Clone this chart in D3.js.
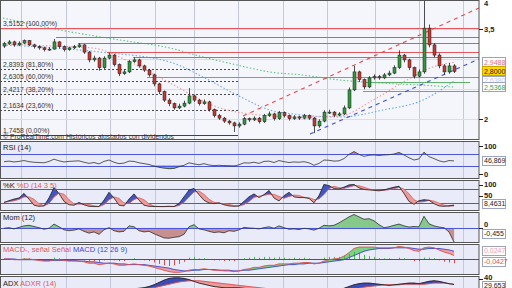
<!DOCTYPE html>
<html><head><meta charset="utf-8">
<script src="https://cdn.jsdelivr.net/npm/d3@7"></script>
<style>html,body{margin:0;padding:0;background:#fff;overflow:hidden}svg{display:block;font-family:"Liberation Sans",Arial,sans-serif}</style>
</head><body><svg id="c" width="512" height="288"></svg>
<script>
// ---------- DATA ----------
const open=[3.22,3.26,3.29,3.24,3.27,3.31,3.24,3.21,3.19,3.16,3.17,3.29,3.21,3.16,3.19,3.21,3.24,3.12,2.99,3.02,2.86,3.02,3.07,2.91,2.76,2.79,2.96,2.99,2.89,2.82,2.74,2.59,2.46,2.32,2.26,2.19,2.22,2.27,2.39,2.32,2.26,2.29,2.16,2.06,2.02,1.97,1.94,1.89,1.92,2.01,1.99,2.02,1.96,2.06,2.09,2.01,2.11,2.06,2.01,2.04,2.02,2.06,2.02,1.89,1.97,2.12,2.12,2.07,2.09,2.19,2.49,2.79,2.66,2.54,2.69,2.71,2.69,2.74,2.77,2.86,3.07,2.99,2.86,2.72,2.79,3.52,3.24,3.07,2.89,2.79,2.89];
const close=[3.26,3.29,3.24,3.27,3.31,3.24,3.21,3.19,3.16,3.17,3.29,3.21,3.16,3.19,3.21,3.24,3.12,2.99,3.02,2.86,3.02,3.07,2.91,2.76,2.79,2.96,2.99,2.89,2.82,2.74,2.59,2.46,2.32,2.26,2.19,2.22,2.27,2.39,2.32,2.26,2.29,2.16,2.06,2.02,1.97,1.94,1.89,1.92,2.01,1.99,2.02,1.96,2.06,2.09,2.01,2.11,2.06,2.01,2.04,2.02,2.06,2.02,1.89,1.97,2.12,2.12,2.07,2.09,2.19,2.49,2.79,2.66,2.54,2.69,2.71,2.69,2.74,2.77,2.86,3.07,2.99,2.86,2.72,2.79,3.52,3.24,3.07,2.89,2.79,2.89,2.80];
const high=[3.29,3.32,3.31,3.30,3.33,3.32,3.26,3.23,3.21,3.20,3.34,3.30,3.23,3.21,3.24,3.27,3.25,3.14,3.06,3.04,3.05,3.11,3.09,2.93,2.83,2.99,3.03,3.01,2.91,2.84,2.76,2.61,2.48,2.35,2.28,2.26,2.31,2.52,2.41,2.34,2.33,2.31,2.18,2.09,2.04,1.99,1.96,1.95,2.04,2.03,2.05,2.04,2.09,2.13,2.11,2.14,2.13,2.08,2.07,2.06,2.09,2.08,2.04,2.00,2.15,2.16,2.14,2.12,2.23,2.53,2.89,2.81,2.68,2.72,2.75,2.74,2.77,2.81,2.90,3.15,3.09,3.01,2.88,2.83,3.99,3.58,3.27,3.10,2.92,2.94,2.92];
const low=[3.19,3.24,3.21,3.22,3.25,3.22,3.18,3.16,3.13,3.14,3.16,3.18,3.13,3.14,3.17,3.19,3.09,2.95,2.96,2.81,2.84,3.00,2.88,2.72,2.74,2.77,2.94,2.86,2.79,2.71,2.55,2.42,2.29,2.22,2.16,2.17,2.20,2.25,2.29,2.23,2.24,2.13,2.03,1.99,1.94,1.91,1.79,1.86,1.90,1.96,1.97,1.93,1.94,2.04,1.98,1.99,2.03,1.98,1.99,1.99,2.00,1.99,1.77,1.86,1.95,2.09,2.04,2.05,2.07,2.17,2.47,2.62,2.50,2.52,2.66,2.66,2.67,2.72,2.75,2.84,2.95,2.82,2.68,2.70,2.76,3.20,3.03,2.85,2.74,2.76,2.77];

const fibLevels=[3.5152,2.8393,2.6305,2.4217,2.1634,1.7458];
const fibLabels=["3,5152 (100,00%)","2,8393 (81,80%)","2,6305 (60,00%)","2,4217 (38,20%)","2,1634 (23,60%)","1,7458 (0,00%)"];
const resLevels=[3.5152,3.366,3.266,3.116,3.043];
const resStart=[-1,10.4,14.8,20.6,25.8];
const supLevels=[2.705,2.62,2.48];
const supStart=[28.6,72,71.8];
const supEnd=[95,93.2,95];
const maGreen=[[-0.2,3.688],[11.2,3.488],[23.2,3.321],[33.2,3.188],[39.8,3.038],[46.6,2.905],[53.2,2.788],[59.8,2.738],[67.2,2.655],[75.2,2.605],[83.2,2.571],[90,2.538]];
const maBlue=[[-0.2,3.238],[7.2,3.205],[19.2,3.121],[33.2,2.955],[39.8,2.705],[46.6,2.405],[53.2,2.155],[59.8,2.071],[67.2,2.038],[75.8,2.155],[83.8,2.321],[90,2.638]];
const maPink=[[0,3.255],[9.2,3.221],[17.8,3.188],[25.2,2.955],[33.2,2.605],[42.6,2.205],[51.2,2.071],[59.2,2.038],[67.2,2.055],[73.8,2.321],[80.6,2.655],[85.2,2.855],[90,2.9488]];
const trendRed=[[47.8,2.055],[95,3.855]];
const trendBlue=[[61.2,1.755],[95,3.005]];
const dateGrid=[3.4,12.4,21.2,30.2,38,46.8,55.8,64.6,74.2,83,91.8];
const mainTicks=[4,3.5,2];
const mainTickLabels=["4","3,5","2"];
const mainTagPrices=[2.9488,2.8,2.638,2.5368];
const mainTagLabels=["2,9488","2,8000","2,6380","2,5368"];

const rsi=[44,46,43,45,48,44,42,41,40,45,53,47,43,45,46,47,42,38,41,36,45,50,42,37,39,46,45,40,37,34,28,24,21,19,20,26,31,40,36,33,37,32,30,31,30,29,28,33,40,39,42,38,45,46,41,48,44,41,43,42,44,40,31,38,50,49,46,47,55,70,80,70,63,67,68,66,68,69,71,77,68,58,50,54,78,62,55,47,43,48,46.869];
const stoK=[20,28,35,40,60,35,8,3,5,40,86,60,25,10,8,20,10,3,2,2,30,65,40,8,5,35,58,30,8,3,2,2,2,3,2,15,45,75,82,55,30,18,15,18,10,5,3,5,25,45,58,42,55,73,40,27,50,65,45,42,42,38,19,50,100,95,82,80,88,98,100,85,78,76,74,72,76,82,88,92,60,25,12,28,32,30,15,5,3,5,8.4631];
const stoD=[22,24,28,34,45,45,34,15,5,16,44,62,57,32,14,13,13,11,5,2,11,32,45,38,18,16,33,41,32,14,4,2,2,2,2,7,21,45,67,71,56,34,21,17,14,11,6,4,11,25,43,48,52,57,56,47,39,47,53,51,43,41,33,36,56,82,92,86,83,89,95,94,88,80,76,74,74,77,82,87,80,59,32,22,24,30,26,17,8,4,5];
const mom=[0,0.02,-0.02,0.03,0.08,0.1,0.06,0.02,-0.03,0,0.14,0.05,-0.05,-0.08,-0.06,-0.02,-0.1,-0.16,-0.12,-0.2,-0.05,0.02,-0.08,-0.12,-0.1,0.08,0.05,-0.08,-0.12,-0.1,-0.18,-0.25,-0.32,-0.33,-0.3,-0.28,-0.2,0.05,0.12,-0.02,-0.05,-0.1,-0.14,-0.12,-0.15,-0.08,-0.1,-0.05,0.03,0.01,0,-0.02,0.02,0.05,0,0.08,0.02,-0.03,-0.02,-0.04,0,-0.02,-0.06,0,0.1,0.08,0.1,0.18,0.28,0.38,0.46,0.38,0.3,0.32,0.25,0.12,0.02,0.05,0.1,0.14,0.08,0.04,0.06,0.05,0.4,0.15,0.08,0.04,0.02,-0.12,-0.455];
const macd=[0,0,-0.01,-0.01,0,0,-0.01,-0.02,-0.03,-0.03,-0.01,-0.01,-0.02,-0.03,-0.03,-0.03,-0.04,-0.06,-0.06,-0.08,-0.07,-0.06,-0.07,-0.09,-0.09,-0.08,-0.07,-0.08,-0.09,-0.1,-0.12,-0.14,-0.16,-0.18,-0.19,-0.19,-0.18,-0.16,-0.15,-0.15,-0.14,-0.15,-0.16,-0.16,-0.17,-0.17,-0.18,-0.17,-0.15,-0.14,-0.12,-0.12,-0.1,-0.09,-0.09,-0.07,-0.07,-0.07,-0.06,-0.06,-0.05,-0.05,-0.07,-0.06,-0.03,-0.01,0,0.01,0.04,0.09,0.15,0.17,0.17,0.17,0.17,0.16,0.16,0.16,0.16,0.18,0.17,0.15,0.12,0.11,0.16,0.17,0.16,0.13,0.1,0.08,0.05];
const signal=[0,0,0,-0.01,-0.01,-0.01,-0.01,-0.01,-0.02,-0.02,-0.02,-0.02,-0.02,-0.02,-0.02,-0.03,-0.03,-0.04,-0.04,-0.05,-0.06,-0.06,-0.06,-0.07,-0.07,-0.08,-0.08,-0.08,-0.08,-0.09,-0.1,-0.11,-0.12,-0.13,-0.15,-0.16,-0.17,-0.17,-0.16,-0.16,-0.15,-0.15,-0.15,-0.16,-0.16,-0.16,-0.17,-0.17,-0.16,-0.16,-0.15,-0.14,-0.13,-0.12,-0.11,-0.1,-0.09,-0.08,-0.08,-0.07,-0.07,-0.06,-0.06,-0.06,-0.05,-0.04,-0.03,-0.02,-0.01,0.02,0.05,0.08,0.11,0.13,0.14,0.15,0.15,0.15,0.16,0.16,0.16,0.16,0.15,0.14,0.14,0.15,0.15,0.15,0.14,0.13,0.11];
const hist=[0,0,-0.01,0,0.01,0.01,0,-0.01,-0.01,0,0.02,0.01,0,-0.01,-0.01,0,-0.02,-0.03,-0.03,-0.04,-0.02,0,-0.02,-0.03,-0.03,0,0.01,-0.01,-0.02,-0.03,-0.05,-0.07,-0.09,-0.1,-0.09,-0.07,-0.04,0.02,0.03,0.01,0.01,0,-0.02,-0.02,-0.03,-0.03,-0.03,-0.01,0.01,0.02,0.03,0.02,0.03,0.03,0.02,0.03,0.02,0.01,0.02,0.01,0.02,0.01,-0.01,0,0.02,0.03,0.03,0.03,0.05,0.07,0.1,0.09,0.06,0.04,0.03,0.01,0.01,0.01,0,0.02,0.01,-0.01,-0.03,-0.03,0.02,0.02,0.01,-0.02,-0.04,-0.05,-0.06];
const adx=[20,19,18,17,17,18,18,17,16,16,17,17,16,16,17,18,19,20,21,21,21,22,22,22,23,23,23,24,25,27,30,34,38,41,42,42,41,39,36,33,31,29,27,26,25,25,25,25,24,23,22,21,20,19,18,18,17,17,16,16,16,16,17,17,17,18,19,21,24,27,30,32,33,33,32,31,30,29,30,31,32,33,33,32,34,36,37,36,34,32,30.5];
const adxr=[21,21,20,20,19,19,19,18,18,18,18,17,17,17,17,17,18,18,19,19,20,20,21,21,22,22,22,23,23,24,25,27,29,31,33,35,36,37,37,37,36,35,34,33,32,31,30,29,28,27,26,25,24,23,22,21,20,19,19,18,18,18,17,17,17,17,18,18,19,20,22,24,26,27,28,29,30,30,30,30,31,31,31,31,31,32,33,33,33,32,31];

// ---------- LAYOUT ----------
const svg=d3.select("#c");
const W=479;
const x=d3.scaleLinear().domain([0,90]).range([4,454]);
const panels={
  main:[0,139], rsi:[141,178], sto:[180,210], mom:[212,242], macd:[244,274], adx:[276,295]
};
const yMain=d3.scaleLinear().domain([1.672,3.988]).range([139,0]);
const yRsi=d3.scaleLinear().domain([0,100]).range([174,146]);
const ySto=d3.scaleLinear().domain([0,100]).range([207,184.5]);
const yMom=d3.scaleLinear().domain([-0.5,0.5]).range([243.3,213.3]);
const yMacd=d3.scaleLinear().domain([-0.2,0.2]).range([273,245]);
const yAdx=d3.scaleLinear().domain([24.5,43.5]).range([288,277]);

const defs=svg.append("defs");
const G={};
Object.entries(panels).forEach(([k,[t,b]])=>{
  defs.append("clipPath").attr("id","cp_"+k).append("rect").attr("x",0.5).attr("y",t).attr("width",W).attr("height",b-t);
  svg.append("rect").attr("x",0.5).attr("y",t+0.5).attr("width",W-0.5).attr("height",b-t)
    .attr("fill",k==="main"?"#f5f6fc":"#e9ebf8");
  G[k]=svg.append("g").attr("clip-path",`url(#cp_${k})`);
  G[k].selectAll("line.vg").data(dateGrid).join("line")
    .attr("x1",d=>Math.round(x(d))+0.5).attr("x2",d=>Math.round(x(d))+0.5)
    .attr("y1",t).attr("y2",b).attr("stroke","#c3c8de").attr("stroke-width",1);
});

// ---------- helpers ----------
function fillBetween(g,a,b,y,pos,neg,op){
  const bv=i=>typeof b==="number"?b:b[i];
  const polys=[];
  for(let i=0;i<a.length-1;i++){
    const d0=a[i]-bv(i),d1=a[i+1]-bv(i+1);
    if(d0*d1<0){
      const t=d0/(d0-d1),xm=i+t,ym=a[i]+t*(a[i+1]-a[i]);
      polys.push({c:d0>0?pos:neg,p:[[i,a[i]],[xm,ym],[i,bv(i)]]});
      polys.push({c:d1>0?pos:neg,p:[[xm,ym],[i+1,a[i+1]],[i+1,bv(i+1)]]});
    }else{
      const s=d0+d1;
      polys.push({c:s>=0?pos:neg,p:[[i,a[i]],[i+1,a[i+1]],[i+1,bv(i+1)],[i,bv(i)]]});
    }
  }
  g.selectAll(null).data(polys.filter(p=>p.c)).join("path")
    .attr("d",d=>"M"+d.p.map(q=>x(q[0])+","+y(q[1])).join("L")+"Z")
    .attr("fill",d=>d.c).attr("stroke",d=>d.c).attr("stroke-width",0.3).attr("opacity",op||1);
}
function line(g,arr,y,color,w,dash){
  g.append("path").datum(arr).attr("fill","none").attr("stroke",color).attr("stroke-width",w||0.8)
   .attr("stroke-dasharray",dash||null)
   .attr("d",d3.line().x((d,i)=>x(i)).y(d=>y(d)));
}
function pline(g,pts,y,color,w,dash){
  g.append("path").datum(pts).attr("fill","none").attr("stroke",color).attr("stroke-width",w||1)
   .attr("stroke-dasharray",dash||null)
   .attr("d",d3.line().curve(d3.curveMonotoneX).x(d=>x(d[0])).y(d=>y(d[1])));
}
function hline(g,v,y,color,x0,x1,w,dash){
  g.append("line").attr("x1",x0).attr("x2",x1).attr("y1",Math.round(y(v))+0.5).attr("y2",Math.round(y(v))+0.5)
   .attr("stroke",color).attr("stroke-width",w||1).attr("stroke-dasharray",dash||null);
}

// ---------- MAIN ----------
const gm=G.main;
[4,3.5,3,2.5,2].forEach(v=>hline(gm,v,yMain,"#d9dcea",0,W,1));
fibLevels.forEach((v,i)=>{
  hline(gm,v,yMain,i===5?"#444":"#333",0,x(46.8),i===5?1:0.9,i===5?null:"2,2");
});
pline(gm,maGreen,yMain,"#5cc47a",1.1,"1.5,2");
pline(gm,maBlue,yMain,"#6aa8ee",1.1,"1.5,2");
pline(gm,maPink,yMain,"#ef9a9a",1.1,"1.5,2");
supLevels.forEach((v,i)=>hline(gm,v,yMain,"#5fb36a",x(supStart[i]),x(supEnd[i]),1.2));
resLevels.forEach((v,i)=>hline(gm,v,yMain,"#e8555a",Math.max(0,x(resStart[i])),W,1.2));
gm.append("path").datum(trendRed).attr("fill","none").attr("stroke","#e84848").attr("stroke-width",1.1).attr("stroke-dasharray","4,4")
  .attr("d",d3.line().x(d=>x(d[0])).y(d=>yMain(d[1])));
gm.append("path").datum(trendBlue).attr("fill","none").attr("stroke","#3a4fd8").attr("stroke-width",1.1).attr("stroke-dasharray","4,4")
  .attr("d",d3.line().x(d=>x(d[0])).y(d=>yMain(d[1])));
const idx=d3.range(close.length);
gm.selectAll("line.wick").data(idx).join("line")
  .attr("x1",i=>Math.round(x(i))+0.5).attr("x2",i=>Math.round(x(i))+0.5)
  .attr("y1",i=>yMain(high[i])).attr("y2",i=>yMain(low[i])).attr("stroke","#222").attr("stroke-width",0.8);
gm.selectAll("rect.body").data(idx).join("rect")
  .attr("x",i=>Math.round(x(i))-1).attr("width",3)
  .attr("y",i=>yMain(Math.max(open[i],close[i])))
  .attr("height",i=>Math.max(1,Math.abs(yMain(open[i])-yMain(close[i]))))
  .attr("fill",i=>close[i]>=open[i]?"#2f9a3c":"#c23a30").attr("stroke","#1a1a1a").attr("stroke-width",0.5);
fibLevels.forEach((v,i)=>{
  gm.append("text").attr("x",3).attr("y",yMain(v)-2).attr("font-size",6.8).attr("fill","#333").text(fibLabels[i]);
});
gm.append("text").attr("x",3).attr("y",138.5).attr("font-size",6.8).attr("fill","#333")
  .text("© ProRealTime.com Históricos ajustados con dividendos");

// ---------- RSI ----------
const gr=G.rsi;
fillBetween(gr,rsi,70,yRsi,"#e07a7a",null);
fillBetween(gr,rsi,30,yRsi,null,"#6cc07a");
hline(gr,70,yRsi,"#4a55e0",0,W,1);
hline(gr,30,yRsi,"#4a55e0",0,W,1);
line(gr,rsi,yRsi,"#333",0.8);
gr.append("text").attr("x",3).attr("y",149.5).attr("font-size",7.5).attr("fill","#222").text("RSI (14)");

// ---------- STOCH ----------
const gs=G.sto;
hline(gs,80,ySto,"#4a55e0",0,W,1);
hline(gs,20,ySto,"#4a55e0",0,W,1);
fillBetween(gs,stoK,stoD,ySto,"#4656c0","#ec9a9a");
line(gs,stoD,ySto,"#e06060",0.8);
line(gs,stoK,ySto,"#222",0.8);
const st=gs.append("text").attr("x",3).attr("y",188).attr("font-size",7.5);
st.append("tspan").attr("fill","#222").text("%K ");
st.append("tspan").attr("fill","#e05a5a").text("%D (14 3 5)");

// ---------- MOM ----------
const go=G.mom;
fillBetween(go,mom,0,yMom,"#86c98a","#c79090");
hline(go,0,yMom,"#4a55e0",0,W,1);
line(go,mom,yMom,"#333",0.8);
go.append("text").attr("x",3).attr("y",220).attr("font-size",7.5).attr("fill","#222").text("Mom (12)");

// ---------- MACD ----------
const gc=G.macd;
fillBetween(gc,macd,signal,yMacd,"#7fd07f","#f0a0a0");
gc.selectAll("line.h").data(idx).join("line")
  .attr("x1",i=>Math.round(x(i))+0.5).attr("x2",i=>Math.round(x(i))+0.5)
  .attr("y1",yMacd(0)).attr("y2",i=>yMacd(hist[i]))
  .attr("stroke",i=>hist[i]>=0?"#3fbf3f":"#e04848").attr("stroke-width",1);
hline(gc,0,yMacd,"#3a48e0",0,W,1);
line(gc,signal,yMacd,"#3a48d8",0.9);
line(gc,macd,yMacd,"#e05050",0.9);
const mt=gc.append("text").attr("x",3).attr("y",251.5).attr("font-size",7.5);
mt.append("tspan").attr("fill","#e05a5a").text("MACD-, señal Señal ");
mt.append("tspan").attr("fill","#3a48d8").text("MACD (12 26 9)");

// ---------- ADX ----------
const ga=G.adx;
fillBetween(ga,adx,adxr,yAdx,"#3d4db5","#ec9a9a");
line(ga,adxr,yAdx,"#e05050",0.9);
line(ga,adx,yAdx,"#222",0.9);
const at=ga.append("text").attr("x",3).attr("y",285.5).attr("font-size",7.5);
at.append("tspan").attr("fill","#222").text("ADX ");
at.append("tspan").attr("fill","#e05a5a").text("ADXR (14)");

Object.entries(panels).forEach(([k,[t,b]])=>{
  svg.append("rect").attr("x",0.5).attr("y",t+0.5).attr("width",W-0.5).attr("height",b-t)
    .attr("fill","none").attr("stroke","#555").attr("stroke-width",1);
});

// ---------- RIGHT AXIS ----------
const ax=svg.append("g").attr("font-size",7.5).attr("fill","#222");
function tick(y,label,ly){
  ax.append("line").attr("x1",W).attr("x2",W+4).attr("y1",Math.round(y)+0.5).attr("y2",Math.round(y)+0.5).attr("stroke","#222");
  ax.append("text").attr("x",484).attr("y",ly===undefined?y:ly).attr("dy","0.35em").attr("font-weight","bold").text(label);
}
function tag(y,label,fill,color,stroke){
  ax.append("rect").attr("x",482.5).attr("y",Math.round(y)-4.5).attr("width",23).attr("height",9)
    .attr("fill",fill).attr("stroke",stroke||"#9aa3c4").attr("stroke-width",1);
  ax.append("text").attr("x",484).attr("y",y).attr("dy","0.35em").attr("font-size",7).attr("fill",color).text(label);
}
tick(yMain(4),mainTickLabels[0],3.5);
tick(yMain(3.5),mainTickLabels[1]);
tick(yMain(2),mainTickLabels[2]);
tag(yMain(mainTagPrices[0]),mainTagLabels[0],"#fff","#e07080");
tag(yMain(mainTagPrices[1]),mainTagLabels[1],"#ffd600","#222","#c8a800");
tag(yMain(mainTagPrices[2]),mainTagLabels[2],"#fff","#b8ccf0");
tag(yMain(mainTagPrices[3]),mainTagLabels[3],"#fff","#2fa860");
tick(yRsi(100),"100"); tick(yRsi(0),"0");
tag(yRsi(rsi[90]),"46,869","#fff","#222");
tick(ySto(100),"100"); tick(ySto(50),"50");
tag(204,"8,4631","#fff","#222");
tick(yMom(0),"0",224);
tag(234,"-0,455","#fff","#222");
tag(251,"0,0247","#fff","#f0a0a8");
tag(262,"-0,0427","#fff","#e05060");
tick(yAdx(40),"40",277);
tag(286,"29,653","#fff","#222");
</script></body></html>
